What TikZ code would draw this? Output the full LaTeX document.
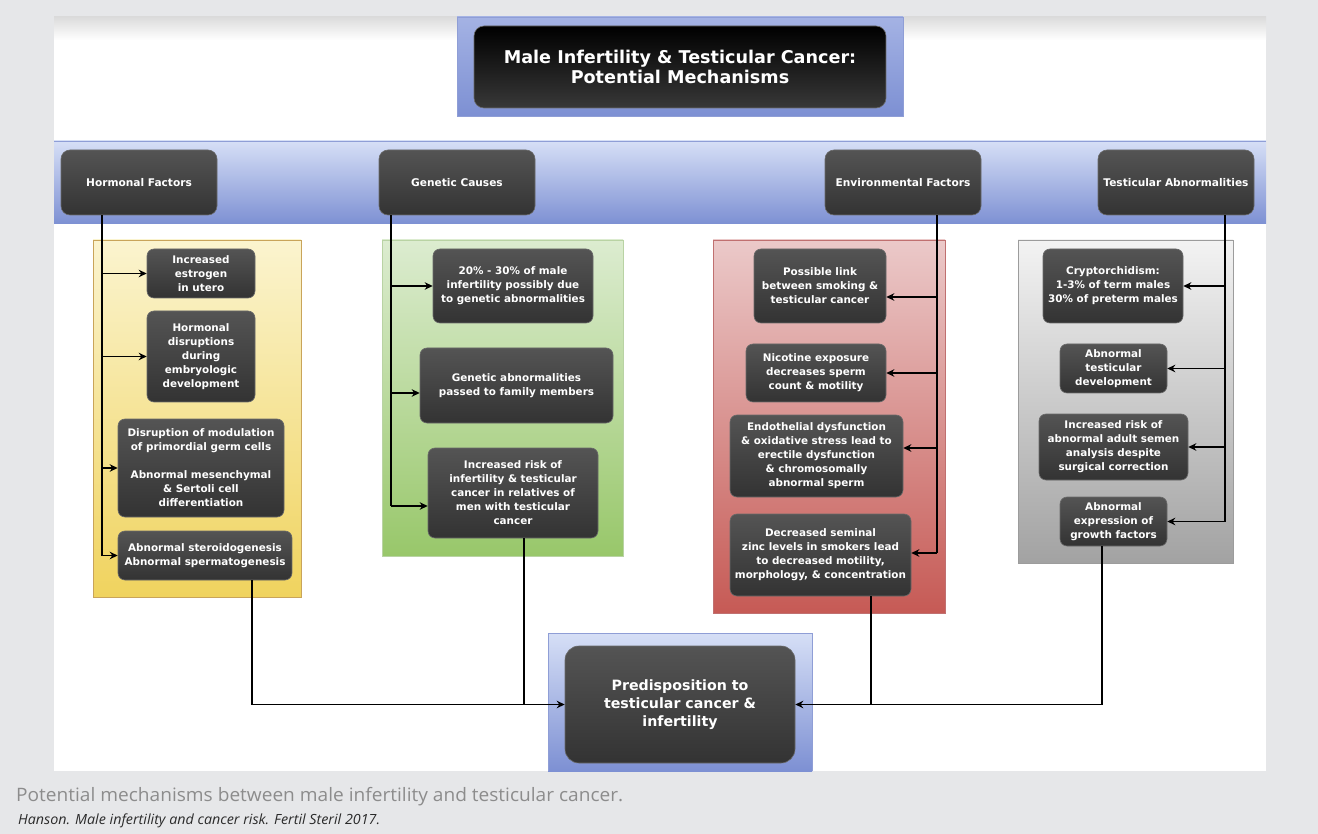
\documentclass[tikz,border=0pt]{standalone}
\usepackage{fontspec}
\setmainfont{DejaVu Sans}
\newfontfamily\capfont{Open Sans}
\usetikzlibrary{arrows.meta}
\definecolor{pagebg}{HTML}{E6E7E9}
\definecolor{dkTop}{HTML}{545454}
\definecolor{dkBot}{HTML}{333333}
\definecolor{dkEdge}{HTML}{6A6A6A}
\definecolor{blTop}{HTML}{D6DFF6}
\definecolor{blMid}{HTML}{AEBBE8}
\definecolor{blBot}{HTML}{7D90D3}
\definecolor{blEdge}{HTML}{8F9ED6}
\definecolor{yeTop}{HTML}{FBF4CF}
\definecolor{yeBot}{HTML}{F0D35E}
\definecolor{yeEdge}{HTML}{C9A45A}
\definecolor{grTop}{HTML}{DCECD0}
\definecolor{grBot}{HTML}{98C76A}
\definecolor{grEdge}{HTML}{B9D3A4}
\definecolor{rdTop}{HTML}{EBC9C9}
\definecolor{rdBot}{HTML}{C65A55}
\definecolor{rdEdge}{HTML}{C07070}
\definecolor{gyTop}{HTML}{F3F3F3}
\definecolor{gyBot}{HTML}{A2A2A2}
\definecolor{gyEdge}{HTML}{9C9C9C}
\definecolor{capgray}{HTML}{8C8C8C}
\definecolor{capdark}{HTML}{2A2A2A}
\tikzset{
  darkbox/.style={draw=dkEdge, line width=0.6pt, rounded corners=7pt,
    top color=dkTop, bottom color=dkBot, text=white, align=center,
    inner sep=0pt, font=\bfseries\fontsize{10.4}{14}\selectfont},
  hdrbox/.style={darkbox, minimum width=156pt, minimum height=65pt,
    rounded corners=9pt, font=\bfseries\fontsize{10.6}{13}\selectfont},
  titlebox/.style={darkbox, top color=black, bottom color=black!78,
    rounded corners=10pt, font=\bfseries\fontsize{17.6}{20}\selectfont},
  predbox/.style={darkbox, rounded corners=14pt,
    font=\bfseries\fontsize{14.2}{18}\selectfont},
  conn/.style={line width=1.7pt, black},
  arr/.style={conn, -{Stealth[length=8pt,width=7.5pt]}},
}
\begin{document}
\begin{tikzpicture}[x=1pt,y=-1pt]
\useasboundingbox (0,0) rectangle (1318,834);
% page background and white panel
\fill[pagebg] (0,0) rectangle (1318,834);
\fill[white] (54,17) rectangle (1266,771);
\shade[top color=black!14, bottom color=white] (54,17) rectangle (1266,40);
% blue band
\shade[top color=blTop, bottom color=blBot] (54,141) rectangle (1266,224);
\draw[blEdge, line width=0.8pt] (54,141) -- (1266,141);
% title frame
\shade[top color=blMid!80!blBot, middle color=blTop!70!blMid, bottom color=blBot] (457,17) rectangle (903,116);
\draw[blEdge, line width=0.6pt] (457,17) rectangle (903,116);
% prediction frame
\shade[top color=blTop, bottom color=blBot] (548,633) rectangle (812,771);
\draw[blEdge, line width=0.6pt] (548,633) -- (548,771) (812,633) -- (812,771) (548,633) -- (812,633);
% coloured panels
\draw[yeEdge, line width=0.8pt, top color=yeTop, bottom color=yeBot] (93,240) rectangle (301,597);
\draw[grEdge, line width=0.8pt, top color=grTop, bottom color=grBot] (382,240) rectangle (623,556);
\draw[rdEdge, line width=0.8pt, top color=rdTop, bottom color=rdBot] (713,240) rectangle (945,613);
\draw[gyEdge, line width=0.8pt, top color=gyTop, bottom color=gyBot] (1018,240) rectangle (1233,563);

% title
\node[titlebox, minimum width=412pt, minimum height=82pt] (title) at (680,67)
  {Male Infertility \& Testicular Cancer:\\Potential Mechanisms};

% headers
\node[hdrbox] (hf) at (139,182.5) {Hormonal Factors};
\node[hdrbox] (gc) at (457,182.5) {Genetic Causes};
\node[hdrbox] (ef) at (903,182.5) {Environmental Factors};
\node[hdrbox] (ta) at (1176,182.5) {Testicular Abnormalities};

% hormonal boxes
\node[darkbox, minimum width=108pt, minimum height=49pt] (h1) at (201,273.5)
  {Increased\\estrogen\\in utero};
\node[darkbox, minimum width=108pt, minimum height=91pt] (h2) at (201,356.5)
  {Hormonal\\disruptions\\during\\embryologic\\development};
\node[darkbox, minimum width=166pt, minimum height=98pt] (h3) at (201,468)
  {Disruption of modulation\\of primordial germ cells\\[14pt]Abnormal mesenchymal\\\& Sertoli cell\\differentiation};
\node[darkbox, minimum width=174pt, minimum height=49pt] (h4) at (205,555.5)
  {Abnormal steroidogenesis\\Abnormal spermatogenesis};

% genetic boxes
\node[darkbox, minimum width=160pt, minimum height=74pt] (g1) at (513,286)
  {20\% - 30\% of male\\infertility possibly due\\to genetic abnormalities};
\node[darkbox, minimum width=193pt, minimum height=75pt] (g2) at (516.5,385.5)
  {Genetic abnormalities\\passed to family members};
\node[darkbox, minimum width=170pt, minimum height=90pt] (g3) at (513,493)
  {Increased risk of\\infertility \& testicular\\cancer in relatives of\\men with testicular\\cancer};

% environmental boxes
\node[darkbox, minimum width=132pt, minimum height=74pt] (e1) at (820,286)
  {Possible link\\between smoking \&\\testicular cancer};
\node[darkbox, minimum width=140pt, minimum height=58pt] (e2) at (816,373)
  {Nicotine exposure\\decreases sperm\\count \& motility};
\node[darkbox, minimum width=173pt, minimum height=82pt] (e3) at (816.5,456)
  {Endothelial dysfunction\\\& oxidative stress lead to\\erectile dysfunction\\\& chromosomally\\abnormal sperm};
\node[darkbox, minimum width=181pt, minimum height=82pt] (e4) at (820.5,555)
  {Decreased seminal\\zinc levels in smokers lead\\to decreased motility,\\morphology, \& concentration};

% testicular boxes
\node[darkbox, minimum width=140pt, minimum height=74pt] (t1) at (1113,286)
  {Cryptorchidism:\\1-3\% of term males\\30\% of preterm males};
\node[darkbox, minimum width=107pt, minimum height=49pt] (t2) at (1113.5,368.5)
  {Abnormal\\testicular\\development};
\node[darkbox, minimum width=149pt, minimum height=66pt] (t3) at (1113.5,447)
  {Increased risk of\\abnormal adult semen\\analysis despite\\surgical correction};
\node[darkbox, minimum width=107pt, minimum height=49pt] (t4) at (1113.5,521.5)
  {Abnormal\\expression of\\growth factors};

% outcome
\node[predbox, minimum width=230pt, minimum height=117pt] (pred) at (680,704.5)
  {Predisposition to\\testicular cancer \&\\infertility};

% spine coordinates
\coordinate (hs) at (102,555.5);
\coordinate (gs) at (391,506);
\coordinate (es) at (937,553);
\coordinate (ts) at (1225,521.5);
\coordinate (ho) at (252,0);
\coordinate (go) at (524,0);
\coordinate (eo) at (871,0);
\coordinate (to) at (1102,0);
\coordinate (g2in) at ([yshift=-7.5pt]g2.west);
\coordinate (e1in) at ([yshift=-11pt]e1.east);
\coordinate (e3in) at ([yshift=8pt]e3.east);

% hormonal connectors
\draw[conn] (hf.south -| hs) -- (hs);
\draw[arr] (hs |- h1.west) -- (h1.west);
\draw[arr] (hs |- h2.west) -- (h2.west);
\draw[arr] (hs |- h3.west) -- (h3.west);
\draw[arr] (hs) -- (h4.west);

% genetic connectors
\draw[conn] (gc.south -| gs) -- (gs);
\draw[arr] (gs |- g1.west) -- (g1.west);
\draw[arr] (gs |- g2in) -- (g2in);
\draw[arr] (gs) -- (gs -| g3.west);

% environmental connectors
\draw[conn] (ef.south -| es) -- (es);
\draw[arr] (es |- e1in) -- (e1in);
\draw[arr] (es |- e2.east) -- (e2.east);
\draw[arr] (es |- e3in) -- (e3in);
\draw[arr] (es) -- (es -| e4.east);

% testicular connectors
\draw[conn] (ta.south -| ts) -- (ts);
\draw[arr] (ts |- t1.east) -- (t1.east);
\draw[arr] (ts |- t2.east) -- (t2.east);
\draw[arr] (ts |- t3.east) -- (t3.east);
\draw[arr] (ts) -- (ts -| t4.east);

% outputs
\draw[arr] (h4.south -| ho) |- (pred.west);
\draw[conn] (g3.south -| go) -- (go |- pred.west);
\draw[arr] (e4.south -| eo) |- (pred.east);
\draw[conn] (t4.south -| to) |- (eo |- pred.east);

% caption
\node[anchor=base west, inner sep=0pt, text=capgray] (cap1) at (16,801)
  {\resizebox{607pt}{\height}{\capfont\fontsize{18.5}{20}\selectfont Potential mechanisms between male infertility and testicular cancer.}};
\node[anchor=base west, inner sep=0pt, text=capdark] (cap2) at (18,824)
  {\resizebox{362pt}{\height}{\capfont\itshape\fontsize{14}{15}\selectfont Hanson. Male infertility and cancer risk. Fertil Steril 2017.}};
\end{tikzpicture}
\end{document}
